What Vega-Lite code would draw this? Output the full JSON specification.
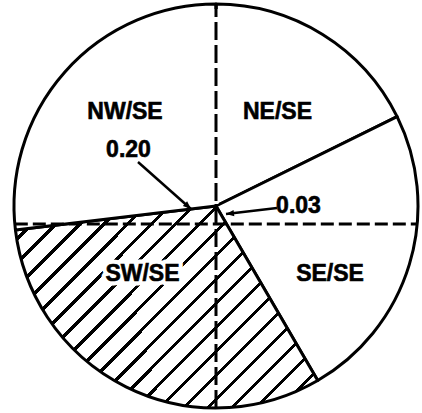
{
  "$schema": "https://vega.github.io/schema/vega-lite/v6.json",
  "width": 422,
  "height": 413,
  "autosize": {"type": "fit", "contains": "padding"},
  "padding": 0,
  "background": "white",
  "config": {"view": {"stroke": null}},
  "datasets": {
    "slices": [
      {"cat": "NE/SE", "share": 17.7, "k": 1},
      {"cat": "SE/SE", "share": 23.9, "k": 2},
      {"cat": "SW/SE", "share": 31.5, "k": 3},
      {"cat": "NW/SE", "share": 26.9, "k": 4}
    ],
    "guides": [
      {"g": "cover", "x": 0, "y": 0.01, "x2": 0, "y2": 0.975},
      {"g": "v", "x": 0, "y": -1.0, "x2": 0, "y2": 0.995},
      {"g": "h", "x": -0.996, "y": -0.089, "x2": 0.996, "y2": -0.089}
    ],
    "arrows": [
      {"id": "a1", "x": -0.3861, "y": 0.2178, "x2": -0.1238, "y2": -0.0149},
      {"id": "a2", "x": 0.3020, "y": -0.0099, "x2": 0.0495, "y2": -0.0396}
    ],
    "labels": [
      {"label": "NW/SE", "x": -0.4505, "y": 0.4307},
      {"label": "NE/SE", "x": 0.3045, "y": 0.4307},
      {"label": "SE/SE", "x": 0.5644, "y": -0.371},
      {"label": "SW/SE", "x": -0.3639, "y": -0.371},
      {"label": "0.20", "x": -0.4332, "y": 0.2426},
      {"label": "0.03", "x": 0.4084, "y": -0.037}
    ]
  },
  "layer": [
    {
      "data": {"name": "slices"},
      "mark": {"type": "arc", "outerRadius": 202, "stroke": "black", "strokeWidth": 3, "strokeJoin": "round"},
      "encoding": {
        "theta": {"field": "share", "type": "quantitative", "stack": true},
        "order": {"field": "k", "type": "quantitative"},
        "x": {"datum": 0, "type": "quantitative", "scale": {"domain": [-1.0693, 1.0198], "nice": false, "zero": false}, "axis": null},
        "y": {"datum": 0, "type": "quantitative", "scale": {"domain": [-1.0248, 1.0198], "nice": false, "zero": false}, "axis": null},
        "fill": {
          "condition": {
            "test": "datum.cat === 'SW/SE'",
            "value": {
              "gradient": "linear", "x1": 0, "y1": 0, "x2": 1.1534, "y2": 0.7704,
              "stops": [
                {"offset": 0, "color": "white"},
                {"offset": 0.016654, "color": "white"}, {"offset": 0.016654, "color": "black"}, {"offset": 0.02498, "color": "black"}, {"offset": 0.02498, "color": "white"},
                {"offset": 0.064236, "color": "white"}, {"offset": 0.064236, "color": "black"}, {"offset": 0.072562, "color": "black"}, {"offset": 0.072562, "color": "white"},
                {"offset": 0.111818, "color": "white"}, {"offset": 0.111818, "color": "black"}, {"offset": 0.120144, "color": "black"}, {"offset": 0.120144, "color": "white"},
                {"offset": 0.1594, "color": "white"}, {"offset": 0.1594, "color": "black"}, {"offset": 0.167726, "color": "black"}, {"offset": 0.167726, "color": "white"},
                {"offset": 0.206982, "color": "white"}, {"offset": 0.206982, "color": "black"}, {"offset": 0.215308, "color": "black"}, {"offset": 0.215308, "color": "white"},
                {"offset": 0.254564, "color": "white"}, {"offset": 0.254564, "color": "black"}, {"offset": 0.26289, "color": "black"}, {"offset": 0.26289, "color": "white"},
                {"offset": 0.302146, "color": "white"}, {"offset": 0.302146, "color": "black"}, {"offset": 0.310472, "color": "black"}, {"offset": 0.310472, "color": "white"},
                {"offset": 0.349728, "color": "white"}, {"offset": 0.349728, "color": "black"}, {"offset": 0.358054, "color": "black"}, {"offset": 0.358054, "color": "white"},
                {"offset": 0.39731, "color": "white"}, {"offset": 0.39731, "color": "black"}, {"offset": 0.405636, "color": "black"}, {"offset": 0.405636, "color": "white"},
                {"offset": 0.444892, "color": "white"}, {"offset": 0.444892, "color": "black"}, {"offset": 0.453218, "color": "black"}, {"offset": 0.453218, "color": "white"},
                {"offset": 0.492474, "color": "white"}, {"offset": 0.492474, "color": "black"}, {"offset": 0.5008, "color": "black"}, {"offset": 0.5008, "color": "white"},
                {"offset": 0.540056, "color": "white"}, {"offset": 0.540056, "color": "black"}, {"offset": 0.548382, "color": "black"}, {"offset": 0.548382, "color": "white"},
                {"offset": 0.587638, "color": "white"}, {"offset": 0.587638, "color": "black"}, {"offset": 0.595964, "color": "black"}, {"offset": 0.595964, "color": "white"},
                {"offset": 0.63522, "color": "white"}, {"offset": 0.63522, "color": "black"}, {"offset": 0.643546, "color": "black"}, {"offset": 0.643546, "color": "white"},
                {"offset": 0.682802, "color": "white"}, {"offset": 0.682802, "color": "black"}, {"offset": 0.691128, "color": "black"}, {"offset": 0.691128, "color": "white"},
                {"offset": 0.730384, "color": "white"}, {"offset": 0.730384, "color": "black"}, {"offset": 0.73871, "color": "black"}, {"offset": 0.73871, "color": "white"},
                {"offset": 0.777966, "color": "white"}, {"offset": 0.777966, "color": "black"}, {"offset": 0.786292, "color": "black"}, {"offset": 0.786292, "color": "white"},
                {"offset": 0.825548, "color": "white"}, {"offset": 0.825548, "color": "black"}, {"offset": 0.833874, "color": "black"}, {"offset": 0.833874, "color": "white"},
                {"offset": 0.87313, "color": "white"}, {"offset": 0.87313, "color": "black"}, {"offset": 0.881456, "color": "black"}, {"offset": 0.881456, "color": "white"},
                {"offset": 0.920712, "color": "white"}, {"offset": 0.920712, "color": "black"}, {"offset": 0.929038, "color": "black"}, {"offset": 0.929038, "color": "white"},
                {"offset": 0.968294, "color": "white"}, {"offset": 0.968294, "color": "black"}, {"offset": 0.97662, "color": "black"}, {"offset": 0.97662, "color": "white"},
                {"offset": 1, "color": "white"}
              ]
            }
          },
          "value": "white"
        }
      }
    },
    {
      "data": {"name": "guides"},
      "transform": [{"filter": "datum.g === 'cover'"}],
      "mark": {"type": "rule", "stroke": "white", "strokeWidth": 5, "strokeCap": "butt"},
      "encoding": {
        "x": {"field": "x", "type": "quantitative", "scale": {"domain": [-1.0693, 1.0198], "nice": false, "zero": false}, "axis": null},
        "y": {"field": "y", "type": "quantitative", "scale": {"domain": [-1.0248, 1.0198], "nice": false, "zero": false}, "axis": null},
        "x2": {"field": "x2"},
        "y2": {"field": "y2"}
      }
    },
    {
      "data": {"name": "guides"},
      "transform": [{"filter": "datum.g === 'v'"}],
      "mark": {"type": "rule", "stroke": "black", "strokeWidth": 3, "strokeDash": [18, 5], "strokeCap": "butt"},
      "encoding": {
        "x": {"field": "x", "type": "quantitative", "axis": null},
        "y": {"field": "y", "type": "quantitative", "axis": null},
        "x2": {"field": "x2"},
        "y2": {"field": "y2"}
      }
    },
    {
      "data": {"name": "guides"},
      "transform": [{"filter": "datum.g === 'h'"}],
      "mark": {"type": "rule", "stroke": "black", "strokeWidth": 3, "strokeDash": [13, 5], "strokeCap": "butt"},
      "encoding": {
        "x": {"field": "x", "type": "quantitative", "axis": null},
        "y": {"field": "y", "type": "quantitative", "axis": null},
        "x2": {"field": "x2"},
        "y2": {"field": "y2"}
      }
    },
    {
      "data": {"name": "arrows"},
      "mark": {"type": "rule", "stroke": "black", "strokeWidth": 2.5},
      "encoding": {
        "x": {"field": "x", "type": "quantitative", "axis": null},
        "y": {"field": "y", "type": "quantitative", "axis": null},
        "x2": {"field": "x2"},
        "y2": {"field": "y2"}
      }
    },
    {
      "data": {"name": "arrows"},
      "transform": [{"filter": "datum.id === 'a1'"}],
      "mark": {"type": "point", "shape": "M0,0L-0.4,1L0.4,1Z", "filled": true, "color": "black", "opacity": 1, "size": 256, "angle": 131.6},
      "encoding": {
        "x": {"field": "x2", "type": "quantitative", "axis": null},
        "y": {"field": "y2", "type": "quantitative", "axis": null}
      }
    },
    {
      "data": {"name": "arrows"},
      "transform": [{"filter": "datum.id === 'a2'"}],
      "mark": {"type": "point", "shape": "M0,0L-0.4,1L0.4,1Z", "filled": true, "color": "black", "opacity": 1, "size": 256, "angle": 263.3},
      "encoding": {
        "x": {"field": "x2", "type": "quantitative", "axis": null},
        "y": {"field": "y2", "type": "quantitative", "axis": null}
      }
    },
    {
      "data": {"name": "labels"},
      "transform": [{"filter": "datum.label === 'SW/SE'"}],
      "mark": {"type": "text", "font": "Liberation Sans", "fontWeight": "bold", "fontSize": 23, "align": "center", "baseline": "alphabetic", "stroke": "white", "strokeWidth": 9, "strokeJoin": "round", "fill": "white"},
      "encoding": {
        "x": {"field": "x", "type": "quantitative", "axis": null},
        "y": {"field": "y", "type": "quantitative", "axis": null},
        "text": {"field": "label"}
      }
    },
    {
      "data": {"name": "labels"},
      "mark": {"type": "text", "font": "Liberation Sans", "fontWeight": "bold", "fontSize": 23, "align": "center", "baseline": "alphabetic", "fill": "black", "stroke": "black", "strokeWidth": 0.6},
      "encoding": {
        "x": {"field": "x", "type": "quantitative", "axis": null},
        "y": {"field": "y", "type": "quantitative", "axis": null},
        "text": {"field": "label"}
      }
    }
  ]
}
